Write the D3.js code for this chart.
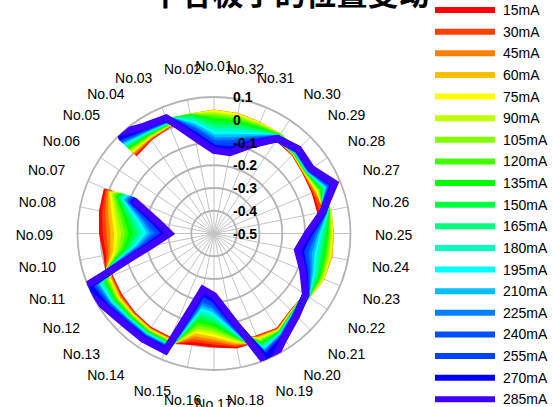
<!DOCTYPE html>
<html>
<head>
<meta charset="utf-8">
<script src="https://cdn.jsdelivr.net/npm/d3@7"></script>
<style>
  html, body { margin: 0; padding: 0; background: #ffffff; }
  svg { display: block; }
</style>
</head>
<body>
<svg id="chart" width="553" height="407"></svg>
<script>
// Pole labels, counter-clockwise from the top
const categories = d3.range(1, 33).map(i => "No." + String(i).padStart(2, "0"));

// Radial axis ticks
const radialTicks = [-0.5, -0.4, -0.3, -0.2, -0.1, 0, 0.1];
const tickLabels = ["-0.5", "-0.4", "-0.3", "-0.2", "-0.1", "0", "0.1"];

// Drive currents
const currents = ["15mA", "30mA", "45mA", "60mA", "75mA", "90mA", "105mA", "120mA", "135mA", "150mA",
                  "165mA", "180mA", "195mA", "210mA", "225mA", "240mA", "255mA", "270mA", "285mA"];

// Displacement at each pole No.01 ... No.32 (No.06 not measured)
const mA15  = [0.020, 0.018, 0.020, 0.008, -0.004, null, 0.008, 0.000, -0.010, -0.020, -0.003, 0.000, 0.005, 0.010, 0.008, -0.016, -0.014, 0.000, 0.000, 0.014, -0.010, -0.008, 0.000, 0.005, 0.000, -0.022, -0.020, -0.015, 0.000, 0.005, 0.010, 0.018];
const mA30  = [0.025, 0.020, 0.022, 0.011, 0.002, null, 0.001, -0.014, -0.026, -0.031, 0.000, 0.004, 0.008, 0.013, 0.011, -0.030, -0.026, -0.007, 0.002, 0.016, -0.009, -0.008, 0.006, 0.012, 0.008, -0.010, -0.015, -0.013, 0.001, 0.010, 0.014, 0.022];
const mA45  = [0.030, 0.022, 0.023, 0.014, 0.008, null, -0.006, -0.028, -0.043, -0.042, 0.003, 0.009, 0.011, 0.016, 0.014, -0.043, -0.038, -0.014, 0.005, 0.019, -0.007, -0.009, 0.010, 0.015, 0.012, 0.010, -0.009, -0.012, 0.003, 0.013, 0.016, 0.025];
const mA60  = [0.030, 0.022, 0.025, 0.018, 0.014, null, -0.013, -0.042, -0.059, -0.052, 0.007, 0.013, 0.014, 0.018, 0.017, -0.056, -0.049, -0.021, 0.009, 0.021, -0.006, -0.009, 0.010, 0.014, 0.012, 0.012, -0.004, -0.010, 0.004, 0.014, 0.016, 0.025];
const mA75  = [0.027, 0.022, 0.027, 0.021, 0.020, null, -0.020, -0.056, -0.076, -0.063, 0.011, 0.018, 0.017, 0.021, 0.019, -0.069, -0.061, -0.028, 0.013, 0.023, -0.005, -0.009, 0.008, 0.010, 0.009, 0.010, 0.001, -0.008, 0.006, 0.013, 0.014, 0.022];
const mA90  = [0.020, 0.022, 0.028, 0.024, 0.026, null, -0.027, -0.069, -0.092, -0.074, 0.016, 0.022, 0.020, 0.024, 0.022, -0.078, -0.073, -0.035, 0.018, 0.025, -0.004, -0.010, 0.004, 0.004, 0.004, 0.008, 0.006, -0.007, 0.007, 0.012, 0.010, 0.016];
const mA105 = [0.012, 0.022, 0.030, 0.027, 0.032, null, -0.034, -0.083, -0.108, -0.085, 0.021, 0.027, 0.023, 0.027, 0.025, -0.091, -0.085, -0.042, 0.024, 0.028, -0.002, -0.010, -0.001, -0.003, -0.002, 0.006, 0.012, -0.005, 0.008, 0.011, 0.005, 0.009];
const mA120 = [0.003, 0.021, 0.032, 0.030, 0.038, null, -0.041, -0.097, -0.125, -0.095, 0.027, 0.031, 0.026, 0.029, 0.028, -0.104, -0.097, -0.049, 0.030, 0.030, -0.001, -0.011, -0.006, -0.010, -0.008, 0.004, 0.017, -0.003, 0.010, 0.010, -0.001, 0.001];
const mA135 = [-0.008, 0.019, 0.033, 0.033, 0.044, null, -0.048, -0.111, -0.141, -0.106, 0.033, 0.036, 0.029, 0.032, 0.030, -0.118, -0.109, -0.056, 0.036, 0.032, 0.000, -0.011, -0.012, -0.017, -0.014, 0.002, 0.022, -0.002, 0.011, 0.009, -0.007, -0.008];
const mA150 = [-0.020, 0.015, 0.035, 0.037, 0.050, null, -0.055, -0.125, -0.158, -0.117, 0.039, 0.040, 0.033, 0.035, 0.033, -0.131, -0.121, -0.063, 0.043, 0.035, 0.002, -0.012, -0.018, -0.025, -0.021, 0.000, 0.028, 0.000, 0.013, 0.008, -0.014, -0.018];
const mA165 = [-0.035, 0.008, 0.037, 0.040, 0.056, null, -0.062, -0.139, -0.174, -0.128, 0.045, 0.044, 0.036, 0.038, 0.036, -0.144, -0.132, -0.069, 0.050, 0.037, 0.003, -0.012, -0.024, -0.035, -0.028, -0.002, 0.033, 0.002, 0.014, 0.007, -0.021, -0.030];
const mA180 = [-0.050, 0.000, 0.038, 0.043, 0.062, null, -0.069, -0.153, -0.190, -0.139, 0.052, 0.049, 0.039, 0.041, 0.039, -0.157, -0.144, -0.076, 0.057, 0.039, 0.004, -0.013, -0.031, -0.045, -0.036, -0.004, 0.038, 0.003, 0.015, 0.006, -0.029, -0.043];
const mA195 = [-0.065, -0.010, 0.040, 0.046, 0.068, null, -0.076, -0.167, -0.207, -0.149, 0.059, 0.053, 0.042, 0.043, 0.041, -0.170, -0.156, -0.083, 0.064, 0.041, 0.005, -0.013, -0.038, -0.055, -0.044, -0.006, 0.043, 0.005, 0.017, 0.005, -0.037, -0.057];
const mA210 = [-0.080, -0.020, 0.042, 0.049, 0.074, null, -0.083, -0.181, -0.223, -0.160, 0.066, 0.058, 0.045, 0.046, 0.044, -0.184, -0.168, -0.090, 0.071, 0.044, 0.007, -0.014, -0.045, -0.065, -0.052, -0.008, 0.049, 0.007, 0.018, 0.004, -0.045, -0.071];
const mA225 = [-0.092, -0.030, 0.043, 0.052, 0.080, null, -0.090, -0.194, -0.239, -0.171, 0.074, 0.062, 0.048, 0.049, 0.047, -0.197, -0.180, -0.097, 0.077, 0.046, 0.008, -0.014, -0.052, -0.077, -0.060, -0.009, 0.054, 0.008, 0.019, 0.003, -0.053, -0.085];
const mA240 = [-0.105, -0.040, 0.045, 0.056, 0.086, null, -0.097, -0.208, -0.256, -0.182, 0.082, 0.067, 0.051, 0.052, 0.050, -0.210, -0.192, -0.104, 0.083, 0.048, 0.009, -0.015, -0.059, -0.090, -0.068, -0.010, 0.059, 0.010, 0.021, 0.002, -0.060, -0.098];
const mA255 = [-0.115, -0.050, 0.047, 0.059, 0.092, null, -0.104, -0.222, -0.272, -0.192, 0.090, 0.071, 0.054, 0.054, 0.052, -0.223, -0.203, -0.111, 0.089, 0.050, 0.010, -0.015, -0.065, -0.100, -0.075, -0.011, 0.064, 0.012, 0.022, 0.001, -0.067, -0.111];
const mA270 = [-0.125, -0.060, 0.048, 0.062, 0.098, null, -0.111, -0.236, -0.289, -0.203, 0.098, 0.076, 0.057, 0.057, 0.055, -0.236, -0.215, -0.118, 0.095, 0.053, 0.012, -0.016, -0.072, -0.113, -0.083, -0.012, 0.070, 0.013, 0.024, 0.001, -0.074, -0.125];
const mA285 = [-0.135, -0.070, 0.050, 0.065, 0.118, null, -0.118, -0.250, -0.305, -0.214, 0.130, 0.080, 0.060, 0.060, 0.058, -0.250, -0.227, -0.125, 0.140, 0.055, 0.013, -0.016, -0.078, -0.126, -0.090, -0.013, 0.075, 0.015, 0.025, 0.002, -0.080, -0.138];

const seriesValues = [mA15, mA30, mA45, mA60, mA75, mA90, mA105, mA120, mA135, mA150,
                      mA165, mA180, mA195, mA210, mA225, mA240, mA255, mA270, mA285];

const colors = ["#ff0000", "#ff4000", "#ff8000", "#ffbf00", "#ffff00", "#bfff00", "#80ff00", "#40ff00",
                "#00ff00", "#00ff40", "#00ff80", "#00ffbf", "#00ffff", "#00bfff", "#0080ff", "#0050ff",
                "#0040ff", "#0000ff", "#4000ff"];

// ---- layout ----
const svg = d3.select("#chart");
const cx = 214, cy = 233.5, R = 136.5;
const rScale = d3.scaleLinear().domain([-0.5, 0.1]).range([0, R]);
const n = categories.length;
const step = 360 / n;
// poles run counter-clockwise, No.01 at the top
const angleOf = i => -i * 2 * Math.PI / n;

const plot = svg.append("g").attr("transform", `translate(${cx},${cy})`);

// clipping to the outer ring
svg.append("defs").append("clipPath").attr("id", "ring")
  .append("circle").attr("cx", 0).attr("cy", 0).attr("r", R);

// grid: spokes
const grid = plot.append("g");
grid.selectAll("line.spoke").data(d3.range(n)).join("line")
  .attr("class", "spoke")
  .attr("x1", 0).attr("y1", 0)
  .attr("x2", i => R * Math.sin(angleOf(i)))
  .attr("y2", i => -R * Math.cos(angleOf(i)))
  .attr("stroke", "#c4c4c4").attr("stroke-width", 1);

// grid: rings
grid.selectAll("circle.ring").data(radialTicks.slice(1)).join("circle")
  .attr("class", "ring")
  .attr("r", d => rScale(d))
  .attr("fill", "none")
  .attr("stroke", "#b4b4b4").attr("stroke-width", 1.8);

// series lines, starting after the unmeasured pole so the loop stays in one piece
const order = d3.range(6, n).concat(d3.range(0, 6));
const line = d3.lineRadial()
  .defined(d => d.v !== null)
  .angle(d => angleOf(d.i))
  .radius(d => rScale(d.v))
  .curve(d3.curveLinear);

const series = plot.append("g").attr("clip-path", "url(#ring)");
seriesValues.forEach((vals, s) => {
  const pts = order.map(i => ({ i, v: vals[i] }));
  series.append("path")
    .attr("d", line(pts))
    .attr("fill", "none")
    .attr("stroke", colors[s])
    .attr("stroke-width", 7)
    .attr("stroke-linejoin", "miter")
    .attr("stroke-miterlimit", 4);
});

// radial tick labels
plot.append("g").selectAll("text").data(radialTicks).join("text")
  .attr("x", 19)
  .attr("y", d => -rScale(d))
  .attr("dominant-baseline", "central")
  .attr("font-family", "Liberation Sans, Arial, sans-serif")
  .attr("font-size", 14)
  .attr("font-weight", "bold")
  .attr("fill", "#000")
  .text((d, i) => tickLabels[i]);

// pole labels: centred near top and bottom, otherwise aligned away from the ring
const labelR = 161, labelLift = 8;
const poleLabel = plot.append("g");
categories.forEach((name, i) => {
  const deg = i * step;                  // counter-clockwise from top
  const cw = (360 - deg) % 360;          // clockwise from top
  const a = deg * Math.PI / 180;
  const eps = 1e-6;
  let anchor;
  if (cw < 22.5 + eps || cw > 337.5 + eps || (cw > 157.5 + eps && cw < 202.5 + eps)) anchor = "middle";
  else anchor = cw < 180 ? "start" : "end";
  const x = -Math.sin(a) * labelR;
  const y = -Math.cos(a) * (labelR + labelLift);
  poleLabel.append("text")
    .attr("x", x).attr("y", y + 1)
    .attr("text-anchor", anchor)
    .attr("dominant-baseline", "central")
    .attr("font-family", "Liberation Sans, Arial, sans-serif")
    .attr("font-size", 14)
    .attr("fill", "#000")
    .text(name);
});

// title
svg.append("text")
  .attr("x", 290).attr("y", 5)
  .attr("text-anchor", "middle")
  .attr("font-family", "Noto Sans CJK SC, sans-serif")
  .attr("font-size", 31)
  .attr("font-weight", "bold")
  .attr("fill", "#000")
  .text("下各极子的位置变动");

// legend
const legend = svg.append("g");
currents.forEach((name, s) => {
  const y = 10 + 21.63 * s;
  legend.append("line")
    .attr("x1", 435).attr("x2", 495).attr("y1", y).attr("y2", y)
    .attr("stroke", colors[s]).attr("stroke-width", 6);
  legend.append("text")
    .attr("x", 503).attr("y", y + 5)
    .attr("font-family", "Liberation Sans, Arial, sans-serif")
    .attr("font-size", 14)
    .attr("fill", "#000")
    .text(name);
});
</script>
</body>
</html>
